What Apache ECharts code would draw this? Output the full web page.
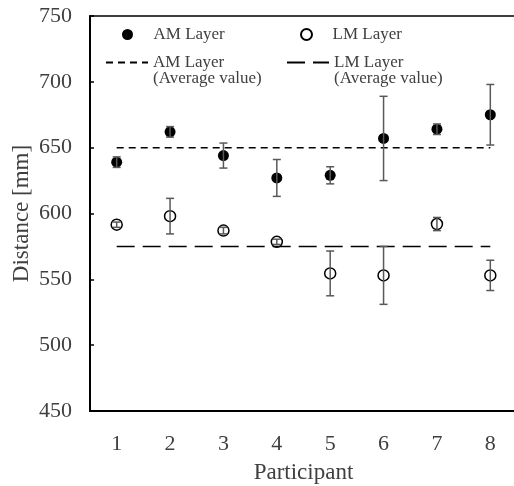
<!DOCTYPE html>
<html>
<head>
<meta charset="utf-8">
<script src="https://cdn.jsdelivr.net/npm/echarts@6/dist/echarts.min.js"></script>
<style>
  html, body { margin: 0; padding: 0; background: #fff; }
  #chart { width: 514px; height: 486px; }
</style>
</head>
<body>
<div id="chart"></div>
<script>
const participants = ['1', '2', '3', '4', '5', '6', '7', '8'];

// AM layer mean and error (+/-)
const amMean = [639, 662, 644, 627, 629, 657, 664, 675];
const amErr = [4, 4, 9.5, 14, 6.5, 32, 4, 23];
// LM layer mean and error (+/-)
const lmMean = [591.5, 598, 587, 578.5, 554.5, 553, 592, 553];
const lmErr = [2, 13.5, 2.5, 2, 17, 22, 5, 11.5];
// average lines
const amAverage = [650, 650, 650, 650, 650, 650, 650, 650];
const lmAverage = [575, 575, 575, 575, 575, 575, 575, 575];

const yTicks = { min: 450, max: 750, interval: 50 };

const FONT = 'Liberation Serif';
const TEXT = '#404040';

function errorData(mean, err) {
  return mean.map((m, i) => [i, m - err[i], m + err[i]]);
}

function renderErrorBar(params, api) {
  const low = api.coord([api.value(0), api.value(1)]);
  const high = api.coord([api.value(0), api.value(2)]);
  const cap = 4;
  const style = { stroke: '#595959', lineWidth: 1.5 };
  return {
    type: 'group',
    children: [
      { type: 'line', shape: { x1: high[0], y1: high[1], x2: low[0], y2: low[1] }, style },
      { type: 'line', shape: { x1: high[0] - cap, y1: high[1], x2: high[0] + cap, y2: high[1] }, style },
      { type: 'line', shape: { x1: low[0] - cap, y1: low[1], x2: low[0] + cap, y2: low[1] }, style },
    ],
  };
}

const legendBase = {
  orient: 'horizontal',
  padding: 0,
  itemWidth: 42,
  itemHeight: 11,
  selectedMode: false,
  textStyle: { fontFamily: FONT, fontSize: 17, color: TEXT, lineHeight: 16.5 },
};

// line legends: empty first line so the icon sits beside the first text line
const lineLegend = {
  ...legendBase,
  formatter: (name) => ' \n' + name,
  itemStyle: { color: 'rgba(0,0,0,0)', borderWidth: 0 },
};

const chart = echarts.init(document.getElementById('chart'), null, { renderer: 'canvas' });

chart.setOption({
  backgroundColor: '#fff',
  animation: false,
  grid: {
    left: 90, right: -3, top: 16, bottom: 75,
    outerBoundsMode: 'none',
    show: true, borderColor: '#000', borderWidth: 1.5, backgroundColor: 'transparent',
  },
  legend: [
    { ...legendBase, data: ['AM Layer'], left: 122, top: 26 },
    { ...legendBase, data: ['LM Layer'], left: 300, top: 26 },
    { ...lineLegend, data: ['AM Layer\n(Average value)'], left: 105, top: 37.5 },
    { ...lineLegend, data: ['LM Layer\n(Average value)'], left: 286, top: 37.5 },
  ],
  xAxis: {
    type: 'category',
    data: participants,
    boundaryGap: true,
    name: 'Participant',
    nameLocation: 'middle',
    nameGap: 50,
    nameMoveOverlap: false,
    nameTextStyle: { fontFamily: FONT, fontSize: 23, color: TEXT },
    axisLine: { lineStyle: { color: '#000', width: 2 } },
    axisTick: { inside: true, length: 4, lineStyle: { color: '#000', width: 1.5 } },
    axisLabel: { fontFamily: FONT, fontSize: 22, color: TEXT, margin: 22 },
    splitLine: { show: false },
  },
  yAxis: {
    type: 'value',
    min: yTicks.min,
    max: yTicks.max,
    interval: yTicks.interval,
    name: 'Distance [mm]',
    nameLocation: 'middle',
    nameGap: 57,
    nameMoveOverlap: false,
    nameTextStyle: { fontFamily: FONT, fontSize: 23, color: TEXT },
    axisLine: { show: true, lineStyle: { color: '#000', width: 2 } },
    axisTick: { show: true, inside: true, length: 4, lineStyle: { color: '#000', width: 1.5 } },
    axisLabel: { fontFamily: FONT, fontSize: 22, color: TEXT, margin: 18 },
    splitLine: { show: false },
  },
  series: [
    {
      name: 'AM Layer\n(Average value)',
      type: 'line',
      data: amAverage,
      symbol: 'none',
      lineStyle: { color: '#000', width: 1.5, type: [7, 5] },
      itemStyle: { color: '#000' },
      z: 1,
    },
    {
      name: 'LM Layer\n(Average value)',
      type: 'line',
      data: lmAverage,
      symbol: 'none',
      lineStyle: { color: '#000', width: 1.5, type: [18, 8] },
      itemStyle: { color: '#000' },
      z: 1,
    },
    {
      name: 'AM Layer',
      type: 'scatter',
      data: amMean,
      symbol: 'circle',
      symbolSize: 11,
      itemStyle: { color: '#000', opacity: 1 },
      z: 2,
    },
    {
      name: 'LM Layer',
      type: 'scatter',
      data: lmMean,
      symbol: 'circle',
      symbolSize: 11,
      itemStyle: { color: 'rgba(255,255,255,0)', borderColor: '#000', borderWidth: 1.5, opacity: 1 },
      z: 2,
    },
    {
      type: 'custom',
      data: errorData(amMean, amErr),
      renderItem: renderErrorBar,
      encode: { x: 0, y: [1, 2] },
      silent: true,
      z: 3,
    },
    {
      type: 'custom',
      data: errorData(lmMean, lmErr),
      renderItem: renderErrorBar,
      encode: { x: 0, y: [1, 2] },
      silent: true,
      z: 3,
    },
  ],
});
</script>
</body>
</html>
